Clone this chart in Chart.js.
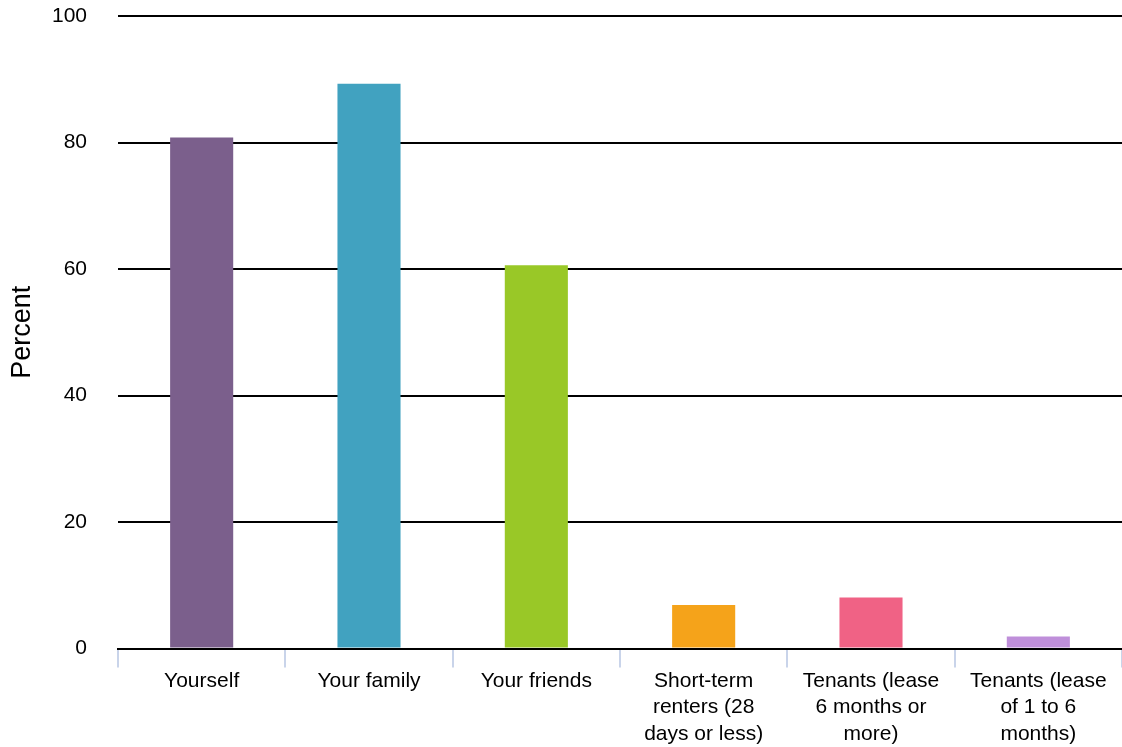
<!DOCTYPE html>
<html>
<head>
<meta charset="utf-8">
<script src="https://cdn.jsdelivr.net/npm/chart.js@4"></script>
<style>
  html, body { margin: 0; padding: 0; background: #fff; }
  #wrap { width: 1122px; height: 747px; }
</style>
</head>
<body>
<div id="wrap"><canvas id="chart" width="1122" height="747"></canvas></div>
<script>
// categories (multi-line labels as drawn under the axis)
const categories = [
    'Yourself',
    'Your family',
    'Your friends',
    ['Short-term', 'renters (28', 'days or less)'],
    ['Tenants (lease', '6 months or', 'more)'],
    ['Tenants (lease', 'of 1 to 6', 'months)']
];

// percent values
const percentValues = [80.8, 89.3, 60.6, 6.9, 8.1, 1.9];

// one colour per bar
const barColors = ['#7b5f8c', '#41a2c0', '#99c827', '#f5a31a', '#f06285', '#bf8fda'];

const yTicks = [0, 20, 40, 60, 80, 100];

const fontFamily = '"Liberation Sans", Arial, Helvetica, sans-serif';

const ctx = document.getElementById('chart').getContext('2d');

const chart = new Chart(ctx, {
    type: 'bar',
    data: {
        labels: categories,
        datasets: [{
            label: 'Percent',
            data: percentValues,
            backgroundColor: barColors,
            borderWidth: 0,
            barPercentage: 0.377,
            categoryPercentage: 1
        }]
    },
    options: {
        responsive: false,
        animation: false,
        layout: {
            padding: { top: 16, right: 0, bottom: 0, left: 0 }
        },
        plugins: {
            legend: { display: false },
            tooltip: { enabled: false }
        },
        scales: {
            x: {
                grid: {
                    display: true,
                    offset: true,
                    drawOnChartArea: false,
                    drawTicks: true,
                    tickLength: 19,
                    color: '#c9d4ea',
                    lineWidth: 2
                },
                border: { display: true, color: '#000', width: 2 },
                ticks: {
                    color: '#000',
                    padding: 0,
                    maxRotation: 0,
                    autoSkip: false,
                    font: { family: fontFamily, size: 21, lineHeight: 1.26 }
                }
            },
            y: {
                min: 0,
                max: 100,
                afterBuildTicks: (scale) => {
                    scale.ticks = yTicks.map(v => ({ value: v }));
                },
                afterFit: (scale) => {
                    // fixed axis width; drop the extra top padding the tick gap adds
                    scale.width = 118;
                    scale.paddingTop = 0;
                    scale.paddingBottom = 0;
                },
                grid: {
                    color: '#000',
                    lineWidth: 2,
                    drawTicks: false
                },
                border: { display: false },
                ticks: {
                    color: '#000',
                    padding: 31,
                    font: { family: fontFamily, size: 21 }
                },
                title: {
                    display: true,
                    text: 'Percent',
                    color: '#000',
                    padding: { top: 6, bottom: 0 },
                    font: { family: fontFamily, size: 27 }
                }
            }
        }
    }
});
</script>
</body>
</html>
